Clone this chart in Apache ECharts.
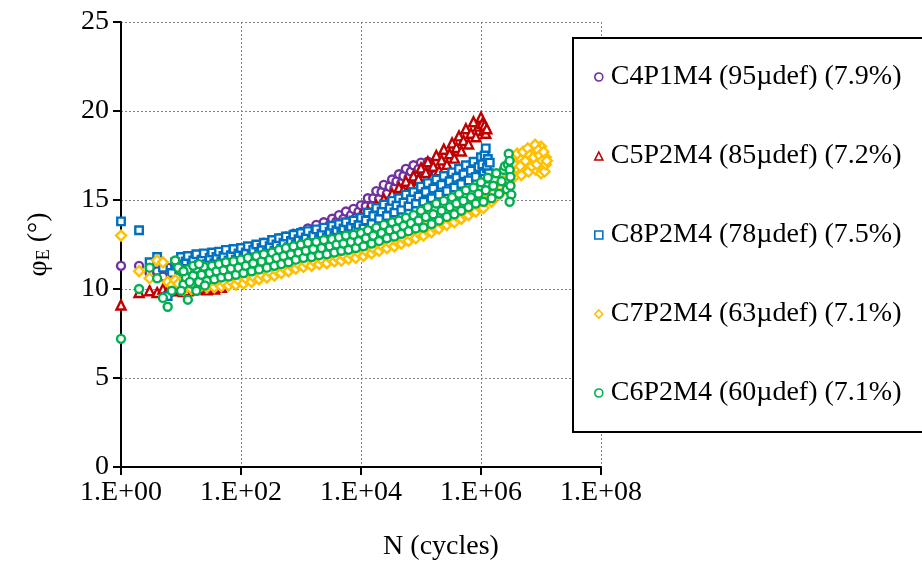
<!DOCTYPE html>
<html>
<head>
<meta charset="utf-8">
<script src="https://cdn.jsdelivr.net/npm/echarts@6/dist/echarts.min.js"></script>
<style>
  html, body { margin: 0; padding: 0; background: #fff; }
  #chart { width: 922px; height: 570px; }
</style>
</head>
<body>
<div id="chart"></div>
<script>
// cycle counts of the logged points (N from 10 up), shared by all specimens
const cycles = [
  10,11,12,13,15,16,18,20,22,24,27,30,33,36,39,43,47,51,56,62,68,75,82,91,
  100,110,120,130,150,160,180,200,220,240,270,300,330,360,390,430,470,510,560,620,680,750,820,910,
  1000,1100,1200,1300,1500,1600,1800,2000,2200,2400,2700,3000,3300,3600,3900,4300,4700,5100,5600,6200,6800,7500,8200,9100,
  1e4,1.1e4,1.2e4,1.3e4,1.5e4,1.6e4,1.8e4,2e4,2.2e4,2.4e4,2.7e4,3e4,3.3e4,3.6e4,3.9e4,4.3e4,4.7e4,5.1e4,5.6e4,6.2e4,6.8e4,7.5e4,8.2e4,9.1e4,
  1e5,1.1e5,1.2e5,1.3e5,1.5e5,1.6e5,1.8e5,2e5,2.2e5,2.4e5,2.7e5,3e5,3.3e5,3.6e5,3.9e5,4.3e5,4.7e5,5.1e5,5.6e5,6.2e5,6.8e5,7.5e5,8.2e5,9.1e5,
  1e6,1.1e6,1.2e6,1.3e6,1.5e6,1.6e6,1.8e6,2e6,2.2e6,2.4e6,2.7e6,3e6,3.3e6,3.6e6,3.9e6,4.3e6,4.7e6,5.1e6,5.6e6,6.2e6,6.8e6,7.5e6,8.2e6,9.1e6,
  1e7,1.1e7,1.2e7];

const seriesNames = ['C4P1M4 (95µdef) (7.9%)', 'C5P2M4 (85µdef) (7.2%)', 'C8P2M4 (78µdef) (7.5%)',
  'C7P2M4 (63µdef) (7.1%)', 'C6P2M4 (60µdef) (7.1%)'];
const xTicks = ['1.E+00', '1.E+02', '1.E+04', '1.E+06', '1.E+08'];

// C4P1M4 - purple (phi_E along cycles)
const c4Band = [
  11.7,11.1,11.45,11.75,11.2,11.5,11.85,11.25,11.55,11.9,11.3,11.65,11.95,11.35,11.7,12.0,11.45,11.75,12.1,11.5,11.8,12.15,11.55,11.9,
  12.2,11.65,12.0,12.35,11.75,12.1,12.45,11.9,12.25,12.6,12.0,12.35,12.7,12.15,12.5,12.85,12.25,12.6,12.95,12.4,12.75,13.1,12.5,12.85,
  13.2,12.65,13.05,13.4,12.85,13.2,13.6,13.05,13.4,13.75,13.25,13.6,13.95,13.4,13.8,14.15,13.6,13.95,14.35,13.8,14.15,14.5,14.0,14.35,
  14.7,14.25,14.65,15.1,14.65,15.1,15.5,15.05,15.45,15.85,15.35,15.75,16.15,15.65,16.05,16.45,15.95,16.35,16.75,16.25,16.6,16.95,16.4,16.75,
  17.1,16.6,16.9,17.15,16.8];
const c4Extra = [[1,11.3],[2,11.3],[3,10.9],[4,11.0],[5,10.7],[6,11.2],[7,10.6],[8,11.1]];

// C5P2M4 - red
const c5Band = [
  10.0,9.85,10.05,9.9,10.1,9.95,10.15,10.0,10.05,10.2,9.95,10.1,10.25,10.0,10.15,10.3,10.1,10.3,10.5,10.7,10.9,11.15,11.35,11.55,
  11.85,11.4,11.65,11.95,11.5,11.8,12.05,11.6,11.9,12.2,11.7,12.0,12.3,11.85,12.1,12.4,11.95,12.25,12.5,12.05,12.35,12.65,12.15,12.45,
  12.8,12.25,12.6,12.95,12.4,12.75,13.1,12.5,12.85,13.2,12.65,13.0,13.35,12.8,13.15,13.5,12.95,13.3,13.65,13.05,13.4,13.75,13.2,13.55,
  14.1,13.4,13.9,14.4,13.7,14.2,14.7,14.0,14.5,15.05,14.35,14.85,15.35,14.7,15.2,15.7,15.0,15.55,16.05,15.35,15.85,16.35,15.7,16.2,
  16.8,15.9,16.55,17.15,16.25,16.9,17.5,16.65,17.25,17.85,17.0,17.6,18.2,17.35,17.95,18.6,17.75,18.35,19.0,18.15,18.75,19.4,18.55,19.15,
  19.65];
const c5Extra = [[1,9.1],[2,9.8],[3,9.9],[4,9.8],[5,10.0],[6,9.9],[7,10.1],[8,9.9],[9,10.0],
  [1.05e6,19.3],[1.1e6,18.9],[1.15e6,19.2],[1.2e6,18.75],[1.25e6,19.0]];

// C8P2M4 - blue
const c8Band = [
  11.8,11.2,11.55,11.85,11.3,11.6,11.95,11.35,11.65,12.0,11.4,11.75,12.05,11.45,11.8,12.1,11.55,11.85,12.2,11.6,11.9,12.25,11.65,12.0,
  12.3,11.75,12.05,12.4,11.85,12.2,12.5,11.95,12.3,12.6,12.05,12.4,12.75,12.15,12.5,12.85,12.25,12.6,12.95,12.35,12.7,13.05,12.5,12.8,
  13.15,12.6,12.9,13.25,12.7,13.0,13.35,12.8,13.1,13.45,12.9,13.2,13.55,13.0,13.3,13.65,13.1,13.4,13.75,13.2,13.5,13.85,13.3,13.6,
  14.0,13.4,13.85,14.3,13.65,14.1,14.55,13.95,14.35,14.75,14.1,14.55,14.95,14.3,14.7,15.1,14.45,14.85,15.3,14.65,15.05,15.45,14.8,15.2,
  15.75,14.9,15.45,15.95,15.1,15.65,16.15,15.3,15.85,16.35,15.5,16.05,16.55,15.7,16.25,16.75,15.9,16.45,16.95,16.1,16.65,17.15,16.3,16.85,
  17.4,16.5,17.9];
const c8Extra = [[1,13.8],[2,13.3],[3,11.5],[4,11.8],[5,11.2],[6,9.6],[7,10.9],[8,11.5],[9,11.3],
  [1.05e6,17.0],[1.15e6,17.5],[1.15e6,16.2],[1.25e6,16.8],[1.3e6,17.3],[1.35e6,16.5],[1.4e6,17.1]];

// C7P2M4 - yellow
const c7Band = [
  10.45,9.95,10.25,10.5,10.0,10.25,10.55,10.05,10.3,10.55,10.1,10.35,10.6,10.1,10.4,10.65,10.15,10.4,10.7,10.2,10.45,10.7,10.25,10.5,
  10.75,10.3,10.6,10.85,10.4,10.7,11.0,10.55,10.8,11.1,10.65,10.95,11.25,10.75,11.05,11.35,10.9,11.2,11.45,11.0,11.3,11.6,11.15,11.4,
  11.7,11.25,11.5,11.8,11.3,11.6,11.85,11.4,11.65,11.95,11.45,11.75,12.0,11.55,11.8,12.1,11.6,11.9,12.15,11.7,11.95,12.25,11.75,12.05,
  12.3,11.85,12.15,12.45,12.0,12.3,12.6,12.15,12.45,12.75,12.3,12.6,12.9,12.4,12.7,13.0,12.55,12.85,13.15,12.7,13.0,13.3,12.85,13.15,
  13.45,13.0,13.35,13.65,13.2,13.5,13.85,13.4,13.7,14.0,13.6,13.9,14.2,13.75,14.1,14.4,13.95,14.25,14.6,14.15,14.45,14.75,14.35,14.65,
  15.0,14.55,14.95,15.4,14.9,15.35,15.75,15.3,15.7,16.15,15.65,16.1,17.2,16.3,16.8,17.4,16.4,16.9,17.6,16.6,17.1,17.8,16.7,17.3,
  18.0,16.9,17.4];
const c7Extra = [[1,13.0],[2,11.0],[3,10.6],[4,11.6],[5,11.5],[6,10.4],[7,10.2],[8,10.5],[9,10.3],
  [3.5e6,17.0],[4e6,17.6],[4.5e6,16.9],[5e6,17.7],[5.5e6,17.2],[6e6,17.9],[6.5e6,17.5],[7e6,16.9],
  [7.5e6,17.4],[8e6,18.1],[8.5e6,17.0],[9e6,17.8],[9.5e6,17.5],[1e7,16.5],[1.05e7,17.2],[1.1e7,17.7],
  [1.15e7,16.6],[1.2e7,17.0],[1.25e7,17.2]];

// C6P2M4 - green
const c6Band = [
  11.0,10.25,10.65,11.1,10.3,10.75,11.15,10.4,10.8,11.25,10.45,10.9,11.3,10.55,11.0,11.4,10.65,11.05,11.5,10.7,11.15,11.55,10.8,11.2,
  11.65,10.9,11.3,11.75,11.0,11.45,11.85,11.1,11.55,11.95,11.2,11.65,12.05,11.3,11.75,12.2,11.4,11.85,12.3,11.5,11.95,12.4,11.65,12.05,
  12.5,11.75,12.15,12.6,11.8,12.25,12.65,11.9,12.3,12.75,11.95,12.4,12.8,12.05,12.5,12.9,12.15,12.55,13.0,12.2,12.65,13.05,12.3,12.7,
  13.15,12.4,12.85,13.3,12.55,13.0,13.45,12.7,13.15,13.6,12.85,13.3,13.75,12.95,13.4,13.85,13.1,13.55,14.0,13.25,13.7,14.15,13.4,13.85,
  14.4,13.45,14.05,14.6,13.65,14.2,14.8,13.85,14.4,14.95,14.05,14.6,15.15,14.2,14.8,15.35,14.4,14.95,15.55,14.6,15.15,15.7,14.8,15.35,
  16.0,14.9,15.55,16.25,15.1,15.8,16.5,15.35,16.05,16.7,15.6];
const c6Extra = [[1,7.2],[2,10.0],[3,11.2],[4,10.6],[5,9.5],[6,9.0],[7,9.9],[8,11.6],[9,11.2],
  [10,9.9],[11,11.0],[13,9.4],[14,10.4],[16,11.3],[18,9.9],[20,11.4],[25,10.2],
  [2.5e6,16.9],[2.8e6,17.0],[2.9e6,17.6],[3.0e6,17.2],[3.0e6,16.7],[3.1e6,16.3],[3.1e6,15.8],[3.2e6,15.3],[3.0e6,14.9]];

const colors = ['#7030A0', '#C00000', '#0070C0', '#FFC000', '#00B050'];
const serif = 'Liberation Serif, Times New Roman, serif';

function points(band, extra) {
  return band.map((v, i) => [cycles[i], v]).concat(extra);
}

function mkSeries(name, data, color, symbol, size) {
  return {
    name: name,
    type: 'scatter',
    data: data,
    symbol: symbol,
    symbolSize: size,
    itemStyle: { color: '#fff', borderColor: color, borderWidth: 2.4, opacity: 1 },
    emphasis: { disabled: true }
  };
}

const chart = echarts.init(document.getElementById('chart'));

const option = {
  animation: false,
  backgroundColor: '#fff',
  textStyle: { fontFamily: serif, color: '#000' },
  grid: { left: 121, right: 321, top: 22, bottom: 103 },
  legend: {
    data: seriesNames,
    orient: 'vertical',
    left: 573,
    top: 38,
    width: 347,
    padding: [25, 30, 25, 21],
    itemGap: 51,
    itemWidth: 8,
    itemHeight: 8,
    backgroundColor: '#fff',
    borderColor: '#000',
    borderWidth: 2,
    borderRadius: 0,
    z: 10,
    itemStyle: { borderWidth: 1.6 },
    textStyle: { fontFamily: serif, fontSize: 28, color: '#000', lineHeight: 28, padding: [0, 0, 0, 3] }
  },
  xAxis: {
    type: 'log',
    logBase: 10,
    min: 1,
    max: 1e8,
    interval: 2,
    name: 'N (cycles)',
    nameLocation: 'middle',
    nameGap: 66,
    nameTextStyle: { fontFamily: serif, fontSize: 28, color: '#000', padding: [0, 0, 0, 160] },
    axisLine: { onZero: false, lineStyle: { color: '#000', width: 2 } },
    axisTick: { show: true, inside: false, length: 8, lineStyle: { color: '#000', width: 2 } },
    minorTick: { show: false },
    axisLabel: {
      fontFamily: serif, fontSize: 28, color: '#000', margin: 12,
      formatter: function (v) {
        const e = Math.round(Math.log10(v));
        return xTicks[e / 2] || '';
      }
    },
    splitLine: { show: true, lineStyle: { color: '#808080', width: 1, type: [2, 2] } }
  },
  yAxis: {
    type: 'value',
    min: 0,
    max: 25,
    interval: 5,
    name: '{a|φ}{s|E}{a| (°)}',
    nameLocation: 'middle',
    nameGap: 68,
    nameRotate: 90,
    nameTextStyle: {
      fontFamily: serif, fontSize: 28, color: '#000',
      rich: {
        a: { fontFamily: serif, fontSize: 28, color: '#000' },
        s: { fontFamily: serif, fontSize: 18, color: '#000', padding: [10, 0, 0, 0] }
      }
    },
    axisLine: { show: true, onZero: false, lineStyle: { color: '#000', width: 2 } },
    axisTick: { show: true, inside: false, length: 8, lineStyle: { color: '#000', width: 2 } },
    axisLabel: { fontFamily: serif, fontSize: 28, color: '#000', margin: 12 },
    splitLine: { show: true, lineStyle: { color: '#808080', width: 1, type: [2, 2] } }
  },
  // drawn in legend order, like the original: purple, red, blue, yellow, green on top
  series: [
    mkSeries(seriesNames[0], points(c4Band, c4Extra), colors[0], 'circle', 8),
    mkSeries(seriesNames[1], points(c5Band, c5Extra), colors[1], 'triangle', 9),
    mkSeries(seriesNames[2], points(c8Band, c8Extra), colors[2], 'rect', 7.5),
    mkSeries(seriesNames[3], points(c7Band, c7Extra), colors[3], 'diamond', 10),
    mkSeries(seriesNames[4], points(c6Band, c6Extra), colors[4], 'circle', 8)
  ]
};

chart.setOption(option);
</script>
</body>
</html>
